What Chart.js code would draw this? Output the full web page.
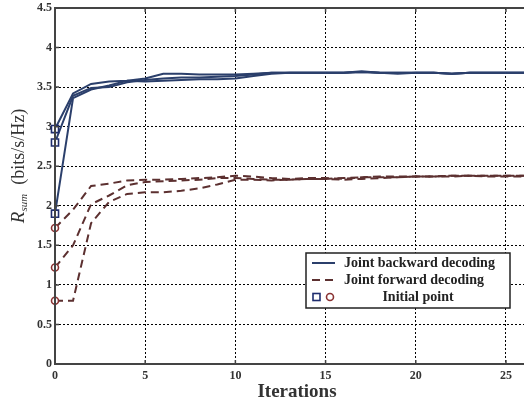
<!DOCTYPE html>
<html>
<head>
<meta charset="utf-8">
<script src="https://cdn.jsdelivr.net/npm/chart.js@4.4.0/dist/chart.umd.min.js"></script>
<style>
  html, body { margin: 0; padding: 0; background: #fff; }
  #wrap { width: 524px; height: 403px; }
</style>
</head>
<body>
<div id="wrap"><canvas id="myChart"></canvas></div>
<script>
// iterations 0..26
const iters = [0,1,2,3,4,5,6,7,8,9,10,11,12,13,14,15,16,17,18,19,20,21,22,23,24,25,26];

// joint backward decoding, three starting points
const back1 = [2.97,3.42,3.54,3.57,3.58,3.61,3.67,3.67,3.66,3.66,3.66,3.67,3.68,3.68,3.68,3.68,3.68,3.70,3.68,3.67,3.68,3.68,3.67,3.68,3.68,3.68,3.68];
const back2 = [2.80,3.39,3.49,3.50,3.56,3.59,3.61,3.62,3.62,3.63,3.64,3.66,3.68,3.68,3.68,3.68,3.68,3.69,3.68,3.68,3.68,3.68,3.67,3.68,3.68,3.68,3.68];
const back3 = [1.90,3.36,3.47,3.52,3.58,3.57,3.58,3.59,3.60,3.60,3.61,3.64,3.67,3.68,3.68,3.68,3.68,3.69,3.68,3.68,3.68,3.68,3.67,3.68,3.68,3.68,3.68];

// joint forward decoding, three starting points
const fwd1 = [1.72,1.95,2.25,2.28,2.32,2.33,2.33,2.34,2.35,2.36,2.38,2.37,2.35,2.34,2.35,2.35,2.34,2.36,2.37,2.37,2.37,2.37,2.38,2.38,2.38,2.38,2.38];
const fwd2 = [1.22,1.50,2.02,2.13,2.26,2.30,2.31,2.32,2.33,2.35,2.35,2.34,2.33,2.33,2.34,2.34,2.35,2.36,2.36,2.36,2.37,2.37,2.37,2.38,2.38,2.38,2.38];
const fwd3 = [0.80,0.80,1.78,2.05,2.15,2.17,2.17,2.19,2.22,2.27,2.33,2.33,2.32,2.33,2.34,2.34,2.33,2.34,2.35,2.36,2.37,2.37,2.38,2.38,2.37,2.37,2.37];

const xTicks = [0,5,10,15,20,25];
const yTicks = [0,0.5,1,1.5,2,2.5,3,3.5,4,4.5];

const blue = '#2b3f6b';
const brown = '#5c3030';
const sqColor = '#1f2d6e';
const circColor = '#8a3232';
const serif = '"Liberation Serif", "Times New Roman", serif';

function pts(arr) {
    return arr.map((v, i) => ({x: iters[i], y: v}));
}

function backSet(arr) {
    return {
        data: pts(arr),
        borderColor: blue,
        borderWidth: 2,
        pointStyle: 'rect',
        pointRadius: c => c.dataIndex === 0 ? 5 : 0,
        pointBorderColor: sqColor,
        pointBackgroundColor: '#fff',
        pointBorderWidth: 1.6,
        tension: 0,
        clip: false
    };
}
function fwdSet(arr) {
    return {
        data: pts(arr),
        borderColor: brown,
        borderWidth: 2,
        borderDash: [8, 5],
        pointStyle: 'circle',
        pointRadius: c => c.dataIndex === 0 ? 3.5 : 0,
        pointBorderColor: circColor,
        pointBackgroundColor: '#fff',
        pointBorderWidth: 1.6,
        tension: 0,
        clip: false
    };
}

// frame, inward ticks, titles and legend (matlab style)
const decor = {
    id: 'decor',
    afterDatasetsDraw(chart) {
        const ctx = chart.ctx;
        const a = chart.chartArea;
        const xs = chart.scales.x, ys = chart.scales.y;
        ctx.save();
        ctx.strokeStyle = '#444';
        ctx.lineWidth = 2;
        ctx.beginPath();
        ctx.moveTo(a.right + 2, a.top);
        ctx.lineTo(a.left, a.top);
        ctx.lineTo(a.left, a.bottom);
        ctx.lineTo(a.right + 2, a.bottom);
        ctx.stroke();
        ctx.lineWidth = 1.5;
        ctx.beginPath();
        xTicks.forEach(t => {
            const px = xs.getPixelForValue(t);
            ctx.moveTo(px, a.bottom); ctx.lineTo(px, a.bottom - 4);
            ctx.moveTo(px, a.top); ctx.lineTo(px, a.top + 4);
        });
        yTicks.forEach(t => {
            const py = ys.getPixelForValue(t);
            ctx.moveTo(a.left, py); ctx.lineTo(a.left + 4, py);
        });
        ctx.stroke();

        // x title
        ctx.fillStyle = '#333';
        ctx.font = 'bold 19px ' + serif;
        ctx.textAlign = 'center';
        ctx.textBaseline = 'middle';
        ctx.fillText('Iterations', 297, 392);

        // y title with subscript
        ctx.save();
        ctx.translate(18, 166);
        ctx.rotate(-Math.PI / 2);
        ctx.textBaseline = 'alphabetic';
        ctx.textAlign = 'left';
        ctx.font = 'italic 19px ' + serif;
        const wR = ctx.measureText('R').width;
        ctx.font = 'italic 11px ' + serif;
        const wS = ctx.measureText('sum').width;
        ctx.font = '18px ' + serif;
        const tail = '  (bits/s/Hz)';
        const wT = ctx.measureText(tail).width;
        let x0 = -(wR + wS + wT) / 2;
        ctx.fillStyle = '#333';
        ctx.font = 'italic 19px ' + serif;
        ctx.fillText('R', x0, 6);
        ctx.font = 'italic 11px ' + serif;
        ctx.fillText('sum', x0 + wR, 9);
        ctx.font = '18px ' + serif;
        ctx.fillText(tail, x0 + wR + wS, 6);
        ctx.restore();

        // legend
        const L = 306, T = 253, R = 510, B = 308;
        ctx.fillStyle = '#fff';
        ctx.fillRect(L, T, R - L, B - T);
        ctx.strokeStyle = '#222';
        ctx.lineWidth = 1.5;
        ctx.strokeRect(L, T, R - L, B - T);

        ctx.lineWidth = 2;
        ctx.strokeStyle = blue;
        ctx.beginPath(); ctx.moveTo(312, 263); ctx.lineTo(335, 263); ctx.stroke();
        ctx.strokeStyle = brown;
        ctx.setLineDash([8, 5]);
        ctx.beginPath(); ctx.moveTo(312, 280); ctx.lineTo(335, 280); ctx.stroke();
        ctx.setLineDash([]);

        ctx.lineWidth = 1.6;
        ctx.strokeStyle = sqColor;
        ctx.strokeRect(313, 293.5, 7, 7);
        ctx.strokeStyle = circColor;
        ctx.beginPath(); ctx.arc(330, 297, 3.5, 0, Math.PI * 2); ctx.stroke();

        ctx.fillStyle = '#222';
        ctx.font = 'bold 14px ' + serif;
        ctx.textAlign = 'left';
        ctx.textBaseline = 'middle';
        ctx.fillText('Joint backward decoding', 344, 263);
        ctx.fillText('Joint forward decoding', 344, 280);
        ctx.textAlign = 'center';
        ctx.fillText('Initial point', 418, 297);
        ctx.restore();
    }
};

const ctx = document.getElementById('myChart').getContext('2d');
new Chart(ctx, {
    type: 'line',
    data: {
        datasets: [
            backSet(back1), backSet(back2), backSet(back3),
            fwdSet(fwd1), fwdSet(fwd2), fwdSet(fwd3)
        ]
    },
    options: {
        responsive: true,
        maintainAspectRatio: false,
        animation: false,
        layout: { autoPadding: false, padding: { top: 8, right: 0, left: 0, bottom: 0 } },
        plugins: {
            legend: { display: false },
            tooltip: { enabled: false }
        },
        scales: {
            x: {
                type: 'linear',
                min: 0,
                max: 26,
                afterBuildTicks: s => { s.ticks = xTicks.map(v => ({value: v})); },
                afterFit: s => { s.height = 39; s.paddingLeft = 0; s.paddingRight = 0; },
                grid: { color: '#000', lineWidth: 1, drawTicks: false },
                border: { display: false, dash: [2, 2] },
                ticks: {
                    color: '#333',
                    padding: 5,
                    maxRotation: 0,
                    font: { family: serif, size: 12, weight: 'bold' }
                }
            },
            y: {
                min: 0,
                max: 4.5,
                afterBuildTicks: s => { s.ticks = yTicks.map(v => ({value: v})); },
                afterFit: s => { s.width = 55; s.paddingTop = 0; s.paddingBottom = 0; },
                grid: { color: '#000', lineWidth: 1, drawTicks: false },
                border: { display: false, dash: [2, 2] },
                ticks: {
                    color: '#333',
                    padding: 3,
                    callback: v => String(v),
                    font: { family: serif, size: 12, weight: 'bold' }
                }
            }
        }
    },
    plugins: [decor]
});
</script>
</body>
</html>
